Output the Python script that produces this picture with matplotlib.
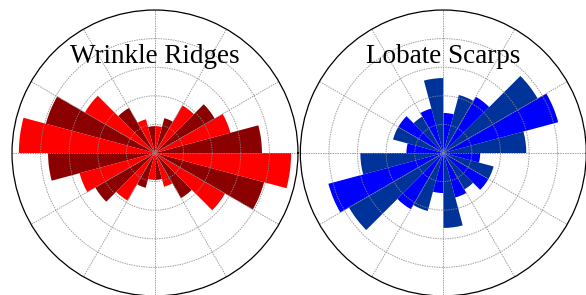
import numpy as np
import matplotlib
matplotlib.use("Agg")
import matplotlib.pyplot as plt

# 15 degree bins from 0 to 180, mirrored to 180-360 (bidirectional rose)
bin_edges = np.arange(0, 180, 15)
wrinkle = [3.74, 2.73, 2.41, 1.92, 1.26, 0.94, 0.94, 1.22, 1.82, 2.83, 3.95, 4.76]
lobate = [2.90, 4.16, 3.81, 2.27, 2.10, 1.40, 2.62, 1.61, 1.47, 1.82, 1.82, 1.29]

titles = ["Wrinkle Ridges", "Lobate Scarps"]
colors = [("#8b0000", "#ff0000"), ("#003399", "#0000ff")]

fig = plt.figure(figsize=(5.86, 2.95), dpi=100)

positions = [[0.0205, -0.0034, 0.488, 0.9695],
             [0.5125, -0.0034, 0.488, 0.9695]]

for pos, vals, title, (c_even, c_odd) in zip(positions, [wrinkle, lobate], titles, colors):
    ax = fig.add_axes(pos, projection="polar")
    theta = np.radians(np.concatenate([bin_edges, bin_edges + 180]))
    r = np.array(vals + vals)
    cols = [c_even if i % 2 == 0 else c_odd for i in range(len(theta))]
    ax.bar(theta, r, width=np.radians(15), align="edge", color=cols,
           edgecolor="none", linewidth=0)
    ax.set_ylim(0, 5)
    ax.set_yticks([1, 2, 3, 4])
    ax.set_xticks(np.radians(np.arange(0, 360, 30)))
    ax.set_xticklabels([])
    ax.set_yticklabels([])
    ax.grid(True, color="#888888", linestyle=(0, (1.5, 1)), linewidth=0.7, alpha=0.8)
    ax.spines["polar"].set_linewidth(0.9)
    ax.spines["polar"].set_color("black")
    ax.text(0.5, 0.815, title, transform=ax.transAxes, ha="center", va="baseline",
            fontsize=19.5, family="Liberation Serif")

fig.savefig("out.png", dpi=100)
